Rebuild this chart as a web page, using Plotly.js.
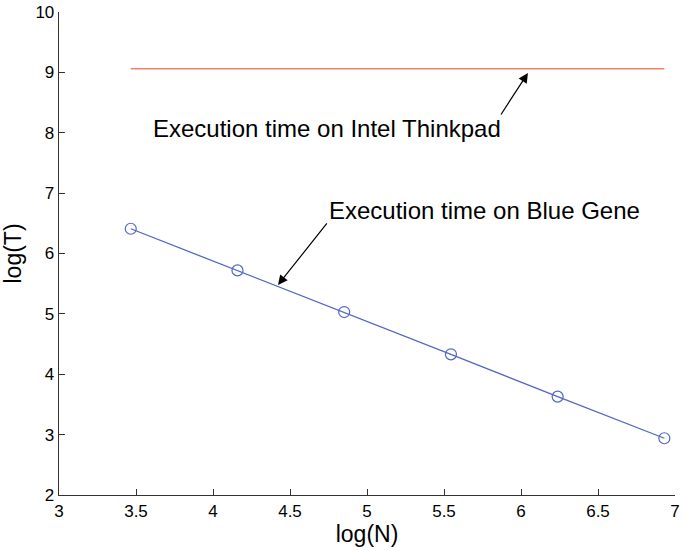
<!DOCTYPE html>
<html>
<head>
<meta charset="utf-8">
<script src="https://cdn.plot.ly/plotly-3.0.1.min.js"></script>
<style>html,body{margin:0;padding:0;background:#fff;}#chart{width:685px;height:550px;}</style>
</head>
<body>
<div id="chart"></div>
<script>
const logN = [3.466, 4.159, 4.852, 5.545, 6.238, 6.931];
const logT_blueGene = [6.41, 5.72, 5.03, 4.33, 3.63, 2.94];
const logT_thinkpad = [9.06, 9.06, 9.06, 9.06, 9.06, 9.06];
const xTicks = [3, 3.5, 4, 4.5, 5, 5.5, 6, 6.5, 7];
const yTicks = [2, 3, 4, 5, 6, 7, 8, 9, 10];
const labelThinkpad = "Execution time on Intel Thinkpad";
const labelBlueGene = "Execution time on Blue Gene";

const font = "Liberation Sans, Arial, sans-serif";

const traces = [
  {
    x: logN, y: logT_thinkpad, mode: "lines", type: "scatter",
    line: {color: "#f0826e", width: 1.3}, hoverinfo: "skip"
  },
  {
    x: logN, y: logT_blueGene, mode: "lines+markers", type: "scatter",
    line: {color: "#5566c4", width: 1.3},
    marker: {symbol: "circle-open", size: 11, color: "#5566c4", line: {width: 1.2}}
  }
];

const layout = {
  width: 685, height: 550,
  margin: {l: 59, r: 10, t: 12, b: 55},
  paper_bgcolor: "#fff", plot_bgcolor: "#fff",
  showlegend: false,
  font: {family: font, color: "#000", size: 16},
  xaxis: {
    range: [3, 7], tickvals: xTicks, ticktext: xTicks.map(String),
    showgrid: false, zeroline: false, showline: true, linecolor: "#333", linewidth: 1.3,
    ticks: "inside", ticklen: 6, tickcolor: "#333",
    tickfont: {family: font, size: 17, color: "#000"},
    title: {text: "log(N)", font: {family: font, size: 23, color: "#000"}, standoff: 5}
  },
  yaxis: {
    range: [2, 10], tickvals: yTicks, ticktext: yTicks.map(String),
    showgrid: false, zeroline: false, showline: true, linecolor: "#333", linewidth: 1.3,
    ticks: "inside", ticklen: 6, tickcolor: "#333",
    tickfont: {family: font, size: 17, color: "#000"},
    title: {text: "log(T)", font: {family: font, size: 23, color: "#000"}, standoff: 10}
  },
  annotations: [
    {x: 6.045, y: 8.99, ax: 5.864, ay: 8.278, axref: "x", ayref: "y", xref: "x", yref: "y",
     text: "", showarrow: true, arrowhead: 2, arrowsize: 1.6, arrowwidth: 1.2, arrowcolor: "#000"},
    {x: 4.422, y: 5.48, ax: 4.747, ay: 6.523, axref: "x", ayref: "y", xref: "x", yref: "y",
     text: "", showarrow: true, arrowhead: 2, arrowsize: 1.6, arrowwidth: 1.2, arrowcolor: "#000"},
    {x: 4.74, y: 8.063, xref: "x", yref: "y", text: labelThinkpad, showarrow: false,
     font: {family: font, size: 24, color: "#000"}},
    {x: 5.766, y: 6.705, xref: "x", yref: "y", text: labelBlueGene, showarrow: false,
     font: {family: font, size: 24, color: "#000"}}
  ]
};

Plotly.newPlot("chart", traces, layout, {displayModeBar: false, staticPlot: true});
</script>
</body>
</html>
